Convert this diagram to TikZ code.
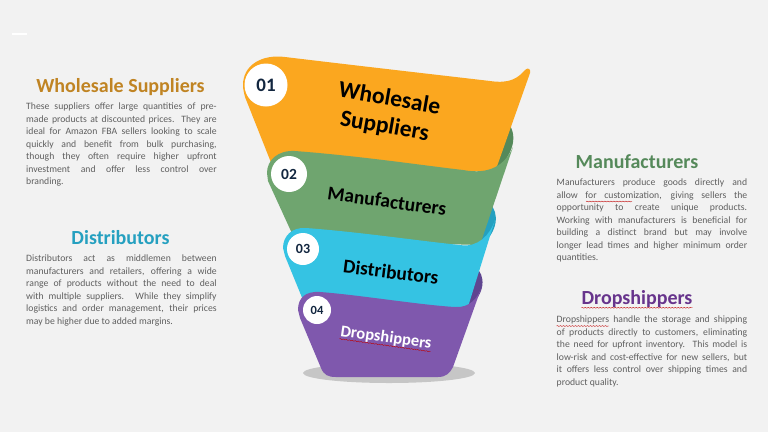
\documentclass[tikz,border=0pt]{standalone}
\usepackage{fontspec}
\setmainfont{Carlito}
\usetikzlibrary{decorations.pathmorphing}
\definecolor{pagegray}{HTML}{F2F2F2}
\definecolor{bodygray}{HTML}{5F5F5F}
\definecolor{numnavy}{HTML}{12263F}
\definecolor{wholesalecol}{HTML}{FBA71F}
\definecolor{manufcol}{HTML}{6FA56F}
\definecolor{manufdark}{HTML}{55895A}
\definecolor{distribcol}{HTML}{35C3E3}
\definecolor{distribdark}{HTML}{25A0C0}
\definecolor{dropcol}{HTML}{7F58AD}
\definecolor{dropdark}{HTML}{5F4590}
\begin{document}
\begin{tikzpicture}[
x=1pt, y=-1pt,
bodytext/.style={inner sep=0pt, anchor=north west, text width=190.5pt, align=justify, text=bodygray, font=\fontsize{9.7}{12.45}\selectfont},
headtext/.style={inner sep=0pt, font=\fontsize{20}{22}\selectfont\bfseries},
bandtext/.style={inner sep=0pt, align=center, text=black, font=\bfseries},
numnode/.style={circle, fill=white, inner sep=0pt, text=numnavy, font=\bfseries},
wavyline/.style={draw=red!75!black, line width=0.4pt, decorate, decoration={snake, amplitude=0.4pt, segment length=3pt}},
]
\useasboundingbox (0,0) rectangle (768,432);
\fill[pagegray] (0,0) rectangle (768,432);
\fill[white] (12,32.5) rectangle (27,34.5);

%Funnel
\fill[gray!45] (389,373) ellipse [x radius=86pt, y radius=10pt];
\fill[manufdark] (505,120) .. controls (517,130) and (518,150) .. (495,172) -- (480,150) -- cycle;
\fill[wholesalecol] (243,85) .. controls (243,65) and (262,54) .. (285,57)
  .. controls (360,66) and (430,74) .. (490,81)
  .. controls (510,84) and (518,78) .. (525,70)
  .. controls (528,67) and (531,69) .. (530,73)
  -- (495,172) -- (272,165) -- (245,97) .. controls (244,93) and (243,89) .. (243,85) -- cycle;
\fill[distribdark] (490,204) .. controls (499,212) and (499,232) .. (480,246) -- (470,225) -- cycle;
\fill[manufcol] (267,173) .. controls (267,160) and (278,150) .. (295,151)
  .. controls (360,156) and (420,165) .. (463,170)
  .. controls (490,175) and (505,165) .. (513,147)
  -- (480,245) -- (295,240) -- (268,181) -- cycle;
\fill[dropdark] (476,268) .. controls (485,274) and (487,294) .. (467,308) -- (455,290) -- cycle;
\fill[distribcol] (283,248) .. controls (283,236) and (292,227) .. (306,228)
  .. controls (360,232) and (420,241) .. (460,245)
  .. controls (478,248) and (490,235) .. (495,220)
  -- (467,310) -- (303,300) -- (285,256) -- cycle;
\fill[dropcol] (298,310) .. controls (298,298) and (305,291) .. (320,292)
  .. controls (360,295) and (420,305) .. (455,307)
  .. controls (470,308) and (478,298) .. (482,286)
  -- (453,367) .. controls (450,373) and (446,377) .. (438,377)
  -- (336,377) .. controls (328,377) and (324,375) .. (321,368)
  -- (300,318) -- cycle;

%Numbers
\node[numnode, minimum size=43pt, font=\fontsize{19}{20}\selectfont\bfseries] (num01) at (266,85) {01};
\node[numnode, minimum size=36pt, font=\fontsize{15.5}{18}\selectfont\bfseries] (num02) at (289,174) {02};
\node[numnode, minimum size=32pt, font=\fontsize{14}{16}\selectfont\bfseries] (num03) at (303,249) {03};
\node[numnode, minimum size=28pt, font=\fontsize{12.5}{15}\selectfont\bfseries] (num04) at (317,310) {04};

%Band labels
\node[bandtext, rotate=-10, font=\fontsize{23.5}{28}\selectfont\bfseries] (bandWholesale) at (387,113) {Wholesale\\Suppliers};
\node[bandtext, rotate=-8, font=\fontsize{19.5}{22}\selectfont\bfseries] (bandManuf) at (387,201) {Manufacturers};
\node[bandtext, rotate=-7, font=\fontsize{19.5}{22}\selectfont\bfseries] (bandDistrib) at (391,272) {Distributors};
\node[bandtext, rotate=-8, text=white, font=\fontsize{16.5}{18}\selectfont\bfseries] (bandDrop) at (386,338) {Dropshippers};
\draw[wavyline] (bandDrop.south west) -- (bandDrop.south east);

%Left column
\node[headtext, text=wholesalecol!75!black!95] (headWholesale) at (120.5,87) {Wholesale Suppliers};
\node[bodytext] (textWholesale) at (26,103) {These suppliers offer large quantities of pre-\linebreak
made products at discounted prices. They are\linebreak
ideal for Amazon FBA sellers looking to scale\linebreak
quickly and benefit from bulk purchasing,\linebreak
though they often require higher upfront\linebreak
investment and offer less control over\linebreak
branding.};
\node[headtext, text=distribdark] (headDistrib) at (120.5,238) {Distributors};
\node[bodytext] (textDistrib) at (26,255) {Distributors act as middlemen between\linebreak
manufacturers and retailers, offering a wide\linebreak
range of products without the need to deal\linebreak
with multiple suppliers. While they simplify\linebreak
logistics and order management, their prices\linebreak
may be higher due to added margins.};

%Right column
\node[headtext, text=manufdark] (headManuf) at (637,162) {Manufacturers};
\node[bodytext] (textManuf) at (556.5,179) {Manufacturers produce goods directly and\linebreak
allow for customization, giving sellers the\linebreak
opportunity to create unique products.\linebreak
Working with manufacturers is beneficial for\linebreak
building a distinct brand but may involve\linebreak
longer lead times and higher minimum order\linebreak
quantities.};
\node[headtext, text=dropdark!75!violet] (headDrop) at (637,299) {Dropshippers};
\draw[wavyline] (headDrop.south west) -- (headDrop.south east);
\node[bodytext] (textDrop) at (556.5,316) {Dropshippers handle the storage and shipping\linebreak
of products directly to customers, eliminating\linebreak
the need for upfront inventory. This model is\linebreak
low-risk and cost-effective for new sellers, but\linebreak
it offers less control over shipping times and\linebreak
product quality.};

%Spelling marks
\draw[wavyline] (586,201.5) -- (632,201.5);
\draw[wavyline] (556.5,326) -- (609,326);
\end{tikzpicture}
\end{document}
